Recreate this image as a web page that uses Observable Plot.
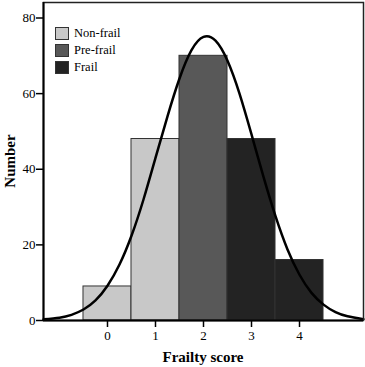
<!DOCTYPE html>
<html><head><meta charset="utf-8">
<script src="https://cdn.jsdelivr.net/npm/d3@7"></script>
<script src="https://cdn.jsdelivr.net/npm/@observablehq/plot@0.6"></script>
<style>
body{margin:0;background:#fff}
#wrap{position:relative;width:365px;height:367px;font-family:"Liberation Serif",serif;color:#000}
#wrap svg{display:block}
.lg{position:absolute;left:55px;font-family:"Liberation Serif",serif;font-size:12.5px;line-height:13px;white-space:nowrap}
.lg span.box{display:inline-block;width:12px;height:11px;border:1px solid #333;vertical-align:top;margin-right:5px}
.title{position:absolute;font-family:"Liberation Serif",serif;font-weight:bold;font-size:15px;white-space:nowrap}
</style></head><body><div id="wrap"></div>
<script>
const scores = [0, 1, 2, 3, 4];
const counts = [9, 48, 70, 48, 16];
const groups = ["Non-frail", "Non-frail", "Pre-frail", "Frail", "Frail"];
const groupNames = ["Non-frail", "Pre-frail", "Frail"];
const groupColors = ["#c8c8c8", "#585858", "#232323"];
const curveX = [-1.333, -1, -0.75, -0.5, -0.25, 0, 0.25, 0.5, 0.75, 1, 1.25, 1.5, 1.75, 2, 2.25, 2.5, 2.75, 3, 3.25, 3.5, 3.75, 4, 4.25, 4.5, 4.75, 5, 5.333];
const curveY = [0.3, 0.75, 1.5, 2.9, 5.3, 9.2, 14.8, 22.4, 32, 43, 54, 64, 71.5, 75, 74, 68.7, 60, 49.2, 38, 27.6, 18.8, 12.1, 7.3, 4.2, 2.2, 1.1, 0.35];
const xTicks = [0, 1, 2, 3, 4];
const yTicks = [0, 20, 40, 60, 80];

const bars = scores.map((s, i) => ({x1: s - 0.5, x2: s + 0.5, y: counts[i], g: groups[i]}));
const curve = curveX.map((x, i) => ({x, y: curveY[i]}));
const serif = '"Liberation Serif", serif';

const chart = Plot.plot({
  width: 365, height: 367,
  marginLeft: 43, marginRight: 2, marginTop: 2, marginBottom: 47,
  x: {domain: [-1.333, 5.333]},
  y: {domain: [0, 84.1]},
  color: {domain: groupNames, range: groupColors},
  style: {fontFamily: serif, fontSize: "13px", color: "#000", background: "#fff"},
  marks: [
    Plot.rectY(bars, {x1: "x1", x2: "x2", y: "y", fill: "g", stroke: "#333", strokeWidth: 1}),
    Plot.line(curve, {x: "x", y: "y", curve: "natural", stroke: "#000", strokeWidth: 2.5}),
    Plot.frame({stroke: "#222", strokeWidth: 1.5}),
    Plot.ruleY([0], {stroke: "#000", strokeWidth: 2}),
    Plot.ruleX([-1.333], {stroke: "#000", strokeWidth: 2}),
    Plot.axisX({ticks: xTicks, tickFormat: d3.format("d"), tickSize: 7, tickPadding: 3, label: null, fontSize: 13, fontFamily: serif, strokeWidth: 1.5}),
    Plot.axisY({ticks: yTicks, tickFormat: d3.format("d"), tickSize: 7, tickPadding: 1, label: null, fontSize: 13, fontFamily: serif, strokeWidth: 1.5})
  ]
});
const wrap = document.getElementById("wrap");
wrap.appendChild(chart);

const tops = [27, 44, 61];
groupNames.forEach((n, i) => {
  const d = document.createElement("div");
  d.className = "lg";
  d.style.top = tops[i] + "px";
  d.innerHTML = `<span class="box" style="background:${groupColors[i]}"></span>${n}`;
  wrap.appendChild(d);
});
const xt = document.createElement("div");
xt.className = "title"; xt.textContent = "Frailty score";
xt.style.left = "203px"; xt.style.top = "349px"; xt.style.transform = "translateX(-50%)";
wrap.appendChild(xt);
const yt = document.createElement("div");
yt.className = "title"; yt.textContent = "Number";
yt.style.left = "10px"; yt.style.top = "161px"; yt.style.transform = "translate(-50%,-50%) rotate(-90deg)";
wrap.appendChild(yt);
</script></body></html>
